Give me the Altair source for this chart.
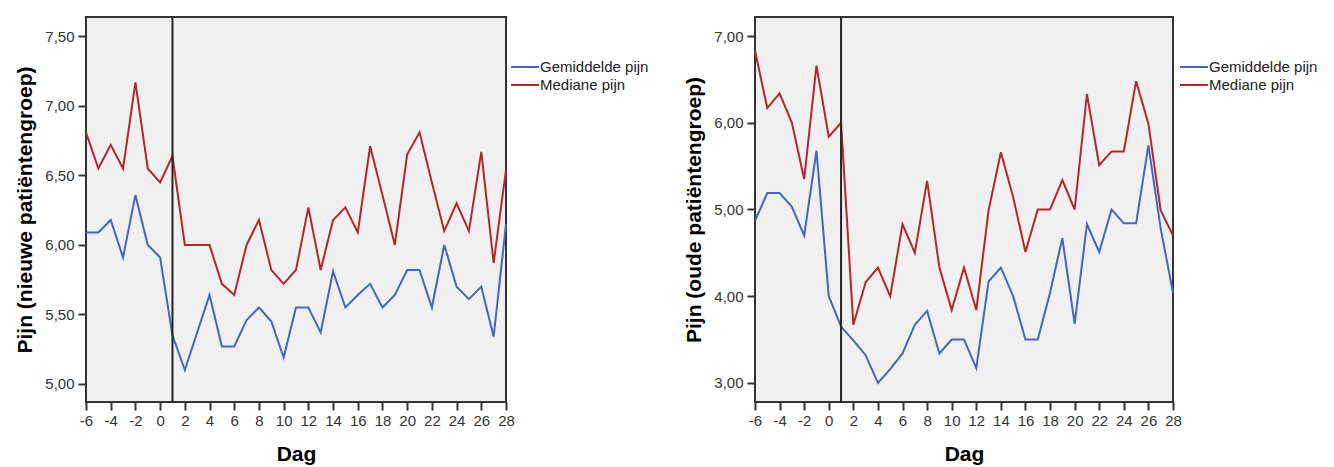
import altair as alt
import pandas as pd

days = list(range(-6, 29))

left_mean = [6.09, 6.09, 6.18, 5.91, 6.36, 6.00, 5.91, 5.35, 5.10, 5.37, 5.64, 5.27,
             5.27, 5.46, 5.55, 5.45, 5.19, 5.55, 5.55, 5.37, 5.81, 5.55, 5.64, 5.72,
             5.55, 5.64, 5.82, 5.82, 5.55, 6.00, 5.70, 5.61, 5.70, 5.34, 6.15]
left_median = [6.81, 6.55, 6.72, 6.55, 7.17, 6.55, 6.45, 6.64, 6.00, 6.00, 6.00, 5.72,
               5.64, 6.00, 6.18, 5.82, 5.72, 5.82, 6.27, 5.82, 6.18, 6.27, 6.09, 6.71,
               6.36, 6.00, 6.65, 6.81, 6.45, 6.10, 6.30, 6.10, 6.67, 5.87, 6.54]

right_mean = [4.87, 5.19, 5.19, 5.03, 4.70, 5.68, 4.00, 3.65, 3.49, 3.32, 3.00, 3.16,
              3.34, 3.67, 3.83, 3.34, 3.50, 3.50, 3.17, 4.17, 4.33, 4.00, 3.50, 3.50,
              4.04, 4.67, 3.68, 4.83, 4.51, 5.00, 4.84, 4.84, 5.74, 4.78, 4.04]
right_median = [6.83, 6.17, 6.34, 6.00, 5.35, 6.66, 5.84, 6.00, 3.67, 4.16, 4.33, 4.00,
                4.83, 4.50, 5.33, 4.33, 3.84, 4.33, 3.84, 4.99, 5.66, 5.14, 4.51, 5.00,
                5.00, 5.34, 5.00, 6.33, 5.51, 5.67, 5.67, 6.48, 5.99, 4.99, 4.70]

series_names = ["Gemiddelde pijn", "Mediane pijn"]
series_colors = ["#4466bb", "#b3262f"]
x_ticks = list(range(-6, 29, 2))
left_y_ticks = [5.0, 5.5, 6.0, 6.5, 7.0, 7.5]
right_y_ticks = [3.0, 4.0, 5.0, 6.0, 7.0]
left_title = "Pijn (nieuwe patiëntengroep)"
right_title = "Pijn (oude patiëntengroep)"
x_title = "Dag"
intervention_day = 1

FONT = "Liberation Sans"


def long_df(mean, median):
    rows = []
    for d, v in zip(days, mean):
        rows.append({"Dag": d, "Waarde": v, "Reeks": series_names[0]})
    for d, v in zip(days, median):
        rows.append({"Dag": d, "Waarde": v, "Reeks": series_names[1]})
    return pd.DataFrame(rows)


def panel(mean, median, ydomain, yticks, ytitle, width):
    df = long_df(mean, median)
    x_axis = alt.Axis(values=x_ticks, labelExpr="'' + datum.value",
                      labelOverlap=False, grid=False, domain=False,
                      tickSize=8, tickWidth=2, tickColor="#333333",
                      labelPadding=3, labelFontSize=15, labelColor="#333333",
                      labelFont=FONT, titleFont=FONT, titleFontSize=21,
                      titleFontWeight="bold", titleColor="#000000",
                      titlePadding=15, labelFlush=False)
    x_scale = alt.Scale(domain=[-6, 28], nice=False, zero=False)
    x = alt.X("Dag:Q", title=x_title, scale=x_scale, axis=x_axis)
    y = alt.Y("Waarde:Q", title=ytitle,
              scale=alt.Scale(domain=ydomain, nice=False, zero=False),
              axis=alt.Axis(values=yticks,
                            labelExpr="replace(format(datum.value, '.2f'), '.', ',')",
                            grid=False, domain=False, tickSize=8, tickWidth=2,
                            tickColor="#333333", labelPadding=4, labelFontSize=15,
                            labelColor="#333333", labelFont=FONT, titleFont=FONT,
                            titleFontSize=21, titleFontWeight="bold",
                            titleColor="#000000", titlePadding=9))
    lines = alt.Chart(df).mark_line(strokeWidth=2).encode(
        x=x, y=y,
        color=alt.Color("Reeks:N",
                        scale=alt.Scale(domain=series_names, range=series_colors),
                        legend=alt.Legend(title=None, orient="none", legendX=431,
                                          legendY=42, symbolType="M-2,0H2",
                                          symbolSize=196, symbolStrokeWidth=2,
                                          labelFontSize=15, labelFont=FONT,
                                          labelColor="#222222", labelOffset=7,
                                          rowPadding=2)),
    )
    rule = alt.Chart(pd.DataFrame({"Dag": [intervention_day]})).mark_rule(
        color="#222222", strokeWidth=2).encode(
        x=alt.X("Dag:Q", title=x_title, scale=x_scale, axis=x_axis))
    return alt.layer(lines, rule).properties(width=width, height=385)


left = panel(left_mean, left_median, [4.87, 7.64], left_y_ticks, left_title, 420)
right = panel(right_mean, right_median, [2.78, 7.22], right_y_ticks, right_title, 418)

chart = alt.hconcat(left, right, spacing=249, bounds="flush").resolve_legend(
    color="independent"
).resolve_scale(y="independent").configure_view(
    fill="#f0f0f0", stroke="#333333", strokeWidth=2
).properties(padding={"left": 5, "top": 7, "right": 5, "bottom": 5})

chart.save("out.html", embed_options={"renderer": "svg", "actions": False})
